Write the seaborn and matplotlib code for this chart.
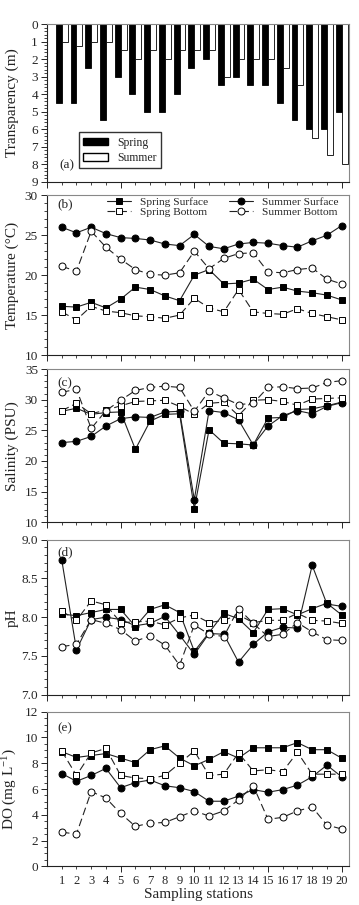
import numpy as np
import pandas as pd
import seaborn as sns
import matplotlib.pyplot as plt
from matplotlib.ticker import MultipleLocator
from matplotlib.patches import Patch
from matplotlib.lines import Line2D

sns.set_style("ticks")
plt.rcParams['font.family'] = ['Liberation Serif', 'DejaVu Serif']
plt.rcParams['xtick.direction'] = 'out'
plt.rcParams['ytick.direction'] = 'out'

stations = list(range(1, 21))

# (a) transparency (m)
transp_spring = [4.5, 4.5, 2.5, 5.5, 3, 4, 5, 5, 4, 2.5, 2, 3.5, 3, 3.5, 3.5, 4.5, 5.5, 6, 6, 5]
transp_summer = [1, 1.25, 1, 1, 1.5, 2, 1.5, 2, 1.5, 1.5, 1.5, 3, 2, 2, 2, 2.5, 3.5, 6.5, 7.5, 8]

# (b) temperature
temp_sp_surf = [16.1, 16.0, 16.6, 15.9, 17.0, 18.5, 18.2, 17.4, 16.8, 20.0,
                20.7, 18.9, 19.0, 19.5, 18.2, 18.5, 18.0, 17.8, 17.5, 16.9]
temp_sp_bot = [15.4, 14.4, 16.1, 15.5, 15.3, 14.9, 14.8, 14.6, 15.0, 17.1,
               15.9, 15.4, 18.2, 15.4, 15.2, 15.1, 15.8, 15.2, 14.8, 14.4]
temp_su_surf = [26.0, 25.3, 26.0, 25.2, 24.7, 24.6, 24.4, 23.9, 23.7, 25.1,
                23.6, 23.3, 23.9, 24.1, 24.0, 23.7, 23.5, 24.3, 25.0, 26.2]
temp_su_bot = [21.1, 20.5, 25.5, 23.5, 22.0, 20.7, 20.1, 20.0, 20.3, 23.0,
               20.8, 22.1, 22.7, 22.8, 20.4, 20.3, 20.7, 20.9, 19.5, 18.9]

# (c) salinity
sal_sp_surf = [28.1, 28.6, 27.6, 27.9, 28.0, 21.9, 26.5, 27.6, 27.7, 12.2,
               25.1, 22.9, 22.8, 22.6, 27.0, 27.1, 28.4, 28.5, 29.0, 29.6]
sal_sp_bot = [28.2, 29.4, 27.7, 28.3, 29.0, 29.7, 29.8, 29.9, 28.9, 27.6,
              29.4, 29.6, 27.4, 29.9, 30.0, 29.7, 29.1, 30.1, 30.2, 30.3]
sal_su_surf = [23.0, 23.2, 24.0, 25.7, 26.9, 27.2, 27.1, 28.0, 28.1, 13.7,
               28.2, 27.9, 26.7, 22.6, 25.7, 27.4, 28.2, 27.7, 28.9, 29.5]
sal_su_bot = [31.2, 31.7, 25.3, 28.2, 29.9, 31.5, 32.0, 32.2, 32.0, 28.1,
              31.4, 30.3, 29.2, 29.4, 32.0, 32.1, 31.8, 31.9, 32.8, 33.1]

# (d) pH
ph_sp_surf = [8.04, 8.02, 8.06, 8.10, 8.10, 7.88, 8.10, 8.16, 8.06, 7.56,
              7.80, 8.05, 7.98, 7.80, 8.10, 8.11, 8.03, 8.11, 8.18, 8.03]
ph_sp_bot = [8.08, 7.96, 8.21, 8.16, 7.93, 7.94, 7.95, 7.90, 7.99, 8.03,
             7.93, 7.96, 8.03, 7.93, 7.96, 7.96, 8.05, 7.96, 7.95, 7.92]
ph_su_surf = [8.74, 7.58, 7.97, 8.00, 7.97, 7.89, 7.92, 8.01, 7.77, 7.52,
              7.79, 7.78, 7.42, 7.65, 7.81, 7.87, 7.86, 8.67, 8.17, 8.14]
ph_su_bot = [7.62, 7.65, 7.97, 7.92, 7.84, 7.69, 7.76, 7.64, 7.38, 7.90,
             7.78, 7.75, 8.11, 7.92, 7.75, 7.78, 7.93, 7.81, 7.71, 7.70]

# (e) dissolved oxygen
do_sp_surf = [8.9, 8.45, 8.6, 8.75, 8.4, 8.05, 9.05, 9.35, 8.4, 7.8,
              8.3, 8.9, 8.4, 9.2, 9.2, 9.2, 9.6, 9.05, 9.05, 8.4]
do_sp_bot = [8.95, 7.05, 8.8, 9.15, 7.05, 6.85, 6.8, 7.05, 8.0, 8.95,
             7.05, 7.15, 8.8, 7.4, 7.5, 7.35, 8.85, 7.15, 7.15, 7.15]
do_su_surf = [7.2, 6.6, 7.05, 7.6, 6.1, 6.5, 6.7, 6.25, 6.1, 5.8,
              5.05, 5.05, 5.45, 5.95, 5.75, 5.95, 6.3, 6.95, 7.85, 6.95]
do_su_bot = [2.65, 2.5, 5.8, 5.3, 4.1, 3.1, 3.35, 3.4, 3.85, 4.3,
             3.9, 4.3, 5.15, 6.25, 3.65, 3.8, 4.3, 4.6, 3.2, 2.9]

series_labels = ["Spring Surface", "Spring Bottom", "Summer Surface", "Summer Bottom"]
styles = {
    "Spring Surface": dict(marker="s", markerfacecolor="black", linestyle="-"),
    "Spring Bottom": dict(marker="s", markerfacecolor="white", linestyle=(0, (7, 3.5))),
    "Summer Surface": dict(marker="o", markerfacecolor="black", linestyle="-"),
    "Summer Bottom": dict(marker="o", markerfacecolor="white", linestyle=(0, (7, 3.5))),
}
draw_order = ["Spring Surface", "Summer Surface", "Spring Bottom", "Summer Bottom"]

W, H = 359, 905
fig = plt.figure(figsize=(W / 100, H / 100), dpi=100)


def make_ax(top, bottom):
    return fig.add_axes([47 / W, (H - bottom) / H, 302 / W, (bottom - top) / H])


def style_ax(ax, ylim, ymajor, yminor, ylabel, last=False):
    ax.set_xlim(0, 20.5)
    ax.set_ylim(*ylim)
    ax.xaxis.set_major_locator(MultipleLocator(5))
    ax.xaxis.set_minor_locator(MultipleLocator(1))
    ax.yaxis.set_major_locator(MultipleLocator(ymajor))
    ax.yaxis.set_minor_locator(MultipleLocator(yminor))
    ax.tick_params(which='major', length=4.5, width=0.7, labelsize=9.5, pad=2)
    ax.tick_params(which='minor', length=2.5, width=0.6)
    if last:
        ax.set_xticks([5, 10, 15, 20], labels=['5', '10', '15', '20'])
        ax.set_xticks(stations, labels=[str(s) for s in stations], minor=True)
        ax.tick_params(axis='x', which='major', labelsize=9, pad=1.5)
        ax.tick_params(axis='x', which='minor', labelsize=9, pad=3.5)
        ax.set_xlabel("Sampling stations", fontsize=11, labelpad=1)
    else:
        ax.set_xticklabels([])
        ax.set_xlabel("")
    ax.set_ylabel(ylabel, fontsize=11, color='#222222')
    ax.yaxis.set_label_coords(-0.092, 0.5)
    for side in ['left', 'bottom']:
        ax.spines[side].set_linewidth(0.8)
        ax.spines[side].set_color('#222222')
    for side in ['top', 'right']:
        ax.spines[side].set_visible(True)
        ax.spines[side].set_linewidth(0.8)
        ax.spines[side].set_color('#888888')


def draw_lines(ax, data):
    for name in draw_order:
        sns.lineplot(x=stations, y=data[name], ax=ax, color='#222222',
                     markersize=5, markeredgecolor='black', markeredgewidth=0.7,
                     linewidth=0.8, **styles[name])


# ---- (a) transparency bars ----
ax_a = make_ax(24, 181.7)
df_t = pd.DataFrame({
    "station": stations * 2,
    "value": transp_spring + transp_summer,
    "season": ["Spring"] * 20 + ["Summer"] * 20,
})
sns.barplot(data=df_t, x="station", y="value", hue="season", native_scale=True,
            palette={"Spring": "black", "Summer": "white"}, edgecolor="black",
            linewidth=0.6, errorbar=None, legend=False, ax=ax_a)
style_ax(ax_a, (9, 0), 1, 0.2, "Transparency (m)")
ax_a.legend(handles=[Patch(facecolor="black", edgecolor="black", label="Spring"),
                     Patch(facecolor="white", edgecolor="black", label="Summer")],
            loc="lower left", bbox_to_anchor=(0.105, 0.085), borderaxespad=0,
            fontsize=8.5, frameon=True, fancybox=False, edgecolor="#333333",
            framealpha=1, handlelength=2.1, handleheight=0.6, labelspacing=0.3,
            borderpad=0.35, handletextpad=0.8)
ax_a.text(0.04, 0.105, "(a)", transform=ax_a.transAxes, fontsize=9.5, va="center")

# ---- (b) temperature ----
ax_b = make_ax(195.3, 355)
draw_lines(ax_b, dict(zip(series_labels, [temp_sp_surf, temp_sp_bot, temp_su_surf, temp_su_bot])))
style_ax(ax_b, (10, 30), 5, 1, "Temperature (°C)")
handles = [Line2D([], [], color='#222222', markersize=5, markeredgecolor='black',
                  markeredgewidth=0.7, linewidth=0.8, label=n, **styles[n])
           for n in series_labels]
ax_b.legend(handles=handles, ncol=2, loc="upper left", bbox_to_anchor=(0.185, 1.02),
            frameon=False, fontsize=8.2, handlelength=2.1, handletextpad=0.8,
            columnspacing=1.8, labelspacing=0.05, borderaxespad=0)
ax_b.text(0.035, 0.945, "(b)", transform=ax_b.transAxes, fontsize=9.5, va="center")

# ---- (c) salinity ----
ax_c = make_ax(369, 522.3)
draw_lines(ax_c, dict(zip(series_labels, [sal_sp_surf, sal_sp_bot, sal_su_surf, sal_su_bot])))
style_ax(ax_c, (10, 35), 5, 1, "Salinity (PSU)")
ax_c.text(0.035, 0.91, "(c)", transform=ax_c.transAxes, fontsize=9.5, va="center")

# ---- (d) pH ----
ax_d = make_ax(539.7, 694.7)
draw_lines(ax_d, dict(zip(series_labels, [ph_sp_surf, ph_sp_bot, ph_su_surf, ph_su_bot])))
style_ax(ax_d, (7.0, 9.0), 0.5, 0.1, "pH")
ax_d.yaxis.set_major_formatter(plt.FormatStrFormatter('%.1f'))
ax_d.text(0.035, 0.92, "(d)", transform=ax_d.transAxes, fontsize=9.5, va="center")

# ---- (e) DO ----
ax_e = make_ax(711.7, 866.3)
draw_lines(ax_e, dict(zip(series_labels, [do_sp_surf, do_sp_bot, do_su_surf, do_su_bot])))
style_ax(ax_e, (0, 12), 2, 0.5, "DO (mg L$\\mathregular{^{-1}}$)", last=True)
ax_e.text(0.035, 0.89, "(e)", transform=ax_e.transAxes, fontsize=9.5, va="center")

fig.savefig("out.png", dpi=100)
